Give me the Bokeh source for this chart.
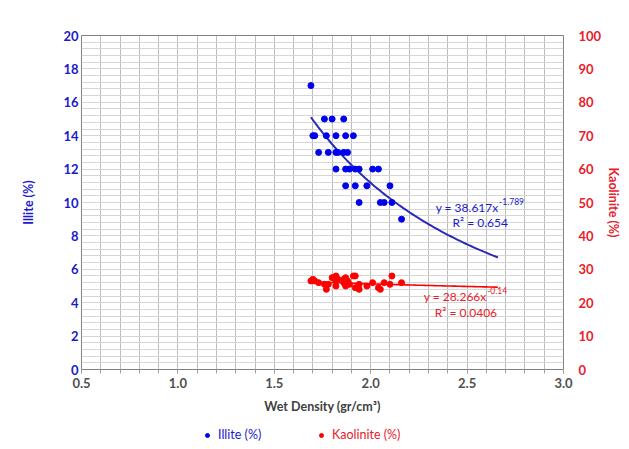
import numpy as np
from bokeh.plotting import figure
from bokeh.layouts import column
from bokeh.models import (Range1d, LinearAxis, Legend, LegendItem, Label,
                          FixedTicker, ColumnDataSource, PrintfTickFormatter)
from bokeh.embed import file_html
from bokeh.resources import INLINE

# ---- data ----
wet_density = [1.69, 1.76, 1.80, 1.86, 1.70, 1.71, 1.77, 1.82, 1.87, 1.91,
               1.73, 1.78, 1.82, 1.83, 1.86, 1.88, 1.82, 1.87, 1.89, 1.92,
               1.94, 2.01, 2.04, 1.87, 1.92, 1.98, 2.10, 1.94, 2.05, 2.07,
               2.11, 2.16]
illite = [17, 15, 15, 15, 14, 14, 14, 14, 14, 14,
          13, 13, 13, 13, 13, 13, 12, 12, 12, 12,
          12, 12, 12, 11, 11, 11, 11, 10, 10, 10,
          10, 9]
kaolinite = [26.5, 25.5, 27.5, 26.0, 27.0, 26.5, 24.0, 26.5, 25.0, 28.0,
             26.0, 25.5, 28.0, 27.0, 27.0, 26.5, 25.0, 26.0, 25.5, 28.0,
             25.5, 26.0, 24.5, 27.5, 24.5, 25.0, 25.5, 24.0, 24.0, 26.0,
             28.0, 26.0]
illite_fit = (38.617, -1.789)
kaol_fit = (28.266, -0.14)
x_ticks = [0.5, 1.0, 1.5, 2.0, 2.5, 3.0]
left_ticks = list(range(0, 21, 2))
right_ticks = list(range(0, 101, 10))

BLUE = "#1a1acc"
BLUE_LINE = "#2a2ab8"
RED = "#ff0000"
RED_TXT = "#e8202a"
FONT = "Lato"

FW, FH = 482, 334
LB = 81

p = figure(frame_width=FW, frame_height=FH, output_backend="svg", toolbar_location=None,
           x_range=Range1d(0.5, 3.0), y_range=Range1d(0, 20),
           min_border_left=LB, min_border_right=50, min_border_top=35,
           min_border_bottom=50)
p.extra_y_ranges = {"k": Range1d(0, 100)}
p.background_fill_color = "white"
p.border_fill_color = "white"
p.outline_line_color = "#808080"
p.outline_line_width = 1

# grids
p.xgrid.ticker = FixedTicker(ticks=[round(0.5 + 0.1 * i, 2) for i in range(26)])
p.xgrid.grid_line_color = "#bcbcbc"
p.ygrid.ticker = FixedTicker(ticks=[round(0.4 * i, 2) for i in range(51)])
p.ygrid.grid_line_color = "#d6d6d6"

# bottom axis
xa = p.xaxis[0]
xa.ticker = FixedTicker(ticks=x_ticks, minor_ticks=[round(0.5 + 0.1 * i, 2) for i in range(26)])
xa.formatter = PrintfTickFormatter(format="%.1f")
xa.axis_line_color = "#808080"
xa.major_tick_in = 0
xa.major_tick_out = 4
xa.minor_tick_in = 0
xa.minor_tick_out = 4
xa.major_tick_line_color = "#a0a0a0"
xa.minor_tick_line_color = "#a0a0a0"
xa.major_label_text_font = FONT
xa.major_label_text_font_style = "bold"
xa.major_label_text_font_size = "13px"
xa.major_label_text_color = "#505050"
xa.major_label_standoff = 4
xa.axis_label = "Wet Density (gr/cm³)"
xa.axis_label_text_font = FONT
xa.axis_label_text_font_style = "bold"
xa.axis_label_text_font_size = "12.5px"
xa.axis_label_text_color = "#404040"
xa.axis_label_standoff = 8

# left axis
ya = p.yaxis[0]
ya.ticker = FixedTicker(ticks=left_ticks)
ya.axis_line_color = None
ya.major_tick_line_color = None
ya.minor_tick_line_color = None
ya.major_tick_out = 0
ya.minor_tick_out = 0
ya.major_label_text_font = FONT
ya.major_label_text_font_style = "bold"
ya.major_label_text_font_size = "13px"
ya.major_label_text_color = BLUE
ya.major_label_standoff = 3
ya.axis_label = "Illite (%)"
ya.axis_label_text_font = FONT
ya.axis_label_text_font_style = "bold"
ya.axis_label_text_font_size = "12.5px"
ya.axis_label_text_color = BLUE
ya.axis_label_standoff = 24

# right axis
ra = LinearAxis(y_range_name="k", ticker=FixedTicker(ticks=right_ticks))
ra.axis_line_color = None
ra.major_tick_line_color = None
ra.minor_tick_line_color = None
ra.major_tick_out = 0
ra.minor_tick_out = 0
ra.major_label_text_font = FONT
ra.major_label_text_font_style = "bold"
ra.major_label_text_font_size = "13px"
ra.major_label_text_color = RED_TXT
ra.major_label_standoff = 15
ra.axis_label = "Kaolinite (%)"
ra.axis_label_text_font = FONT
ra.axis_label_text_font_style = "bold"
ra.axis_label_text_font_size = "12.5px"
ra.axis_label_text_color = RED_TXT
ra.axis_label_standoff = 2
p.add_layout(ra, "right")

# trend lines from fitted coefficients (extended 0.5 forward like the source)
xs = np.linspace(min(wet_density), max(wet_density) + 0.5, 80)
p.line(xs, illite_fit[0] * xs ** illite_fit[1], line_color=BLUE_LINE, line_width=2)
p.line(xs, kaol_fit[0] * xs ** kaol_fit[1], line_color=RED, line_width=1.6,
       y_range_name="k")

src = ColumnDataSource(dict(x=wet_density, ill=illite, kao=kaolinite))
p.scatter("x", "ill", source=src, size=6, color="#0000ee")
p.scatter("x", "kao", source=src, size=6, color=RED, y_range_name="k")

# equations
def eq(x, y, txt, color, align="center", size="12px"):
    p.add_layout(Label(x=x, y=y, text=txt, text_color=color, text_font=FONT,
                       text_font_size=size, text_align=align,
                       text_baseline="middle"))

eq(2.663, 9.70, "y = 38.617x", BLUE, "right")
eq(2.666, 10.05, "-1.789", BLUE, "left", "8.5px")
eq(2.568, 8.78, "R² = 0.654", BLUE)
eq(2.601, 4.39, "y = 28.266x", RED_TXT, "right")
eq(2.604, 4.74, "-0.14", RED_TXT, "left", "8.5px")
eq(2.494, 3.43, "R² = 0.0406", RED_TXT)

# legend strip (separate plot below, same frame alignment)
q = figure(frame_width=FW, frame_height=24, output_backend="svg", toolbar_location=None,
           x_range=Range1d(0.5, 3.0), y_range=Range1d(1000, 1001),
           min_border_left=LB, min_border_right=50, min_border_top=0,
           min_border_bottom=0)
q.axis.visible = False
q.grid.visible = False
q.outline_line_color = None
q.border_fill_color = "white"
lsrc = ColumnDataSource(dict(x=wet_density, ill=illite, kao=kaolinite))
l_ill = q.scatter("x", "ill", source=lsrc, size=6, color="#0000ee")
l_kao = q.scatter("x", "kao", source=lsrc, size=6, color=RED)

def make_legend(r, label, color, x):
    lg = Legend(items=[LegendItem(label=label, renderers=[r])], location=(x, 1),
                orientation="horizontal", padding=0, margin=0, spacing=0,
                border_line_color=None, background_fill_alpha=0,
                glyph_width=10, glyph_height=12, label_standoff=6,
                label_text_font=FONT, label_text_font_size="12.5px",
                label_text_color=color, label_height=12)
    q.add_layout(lg, "center")

make_legend(l_ill, "Illite (%)", BLUE, 121)
make_legend(l_kao, "Kaolinite (%)", RED_TXT, 235)

layout = column(p, q, spacing=0)
open("out.html", "w").write(file_html(layout, INLINE))
